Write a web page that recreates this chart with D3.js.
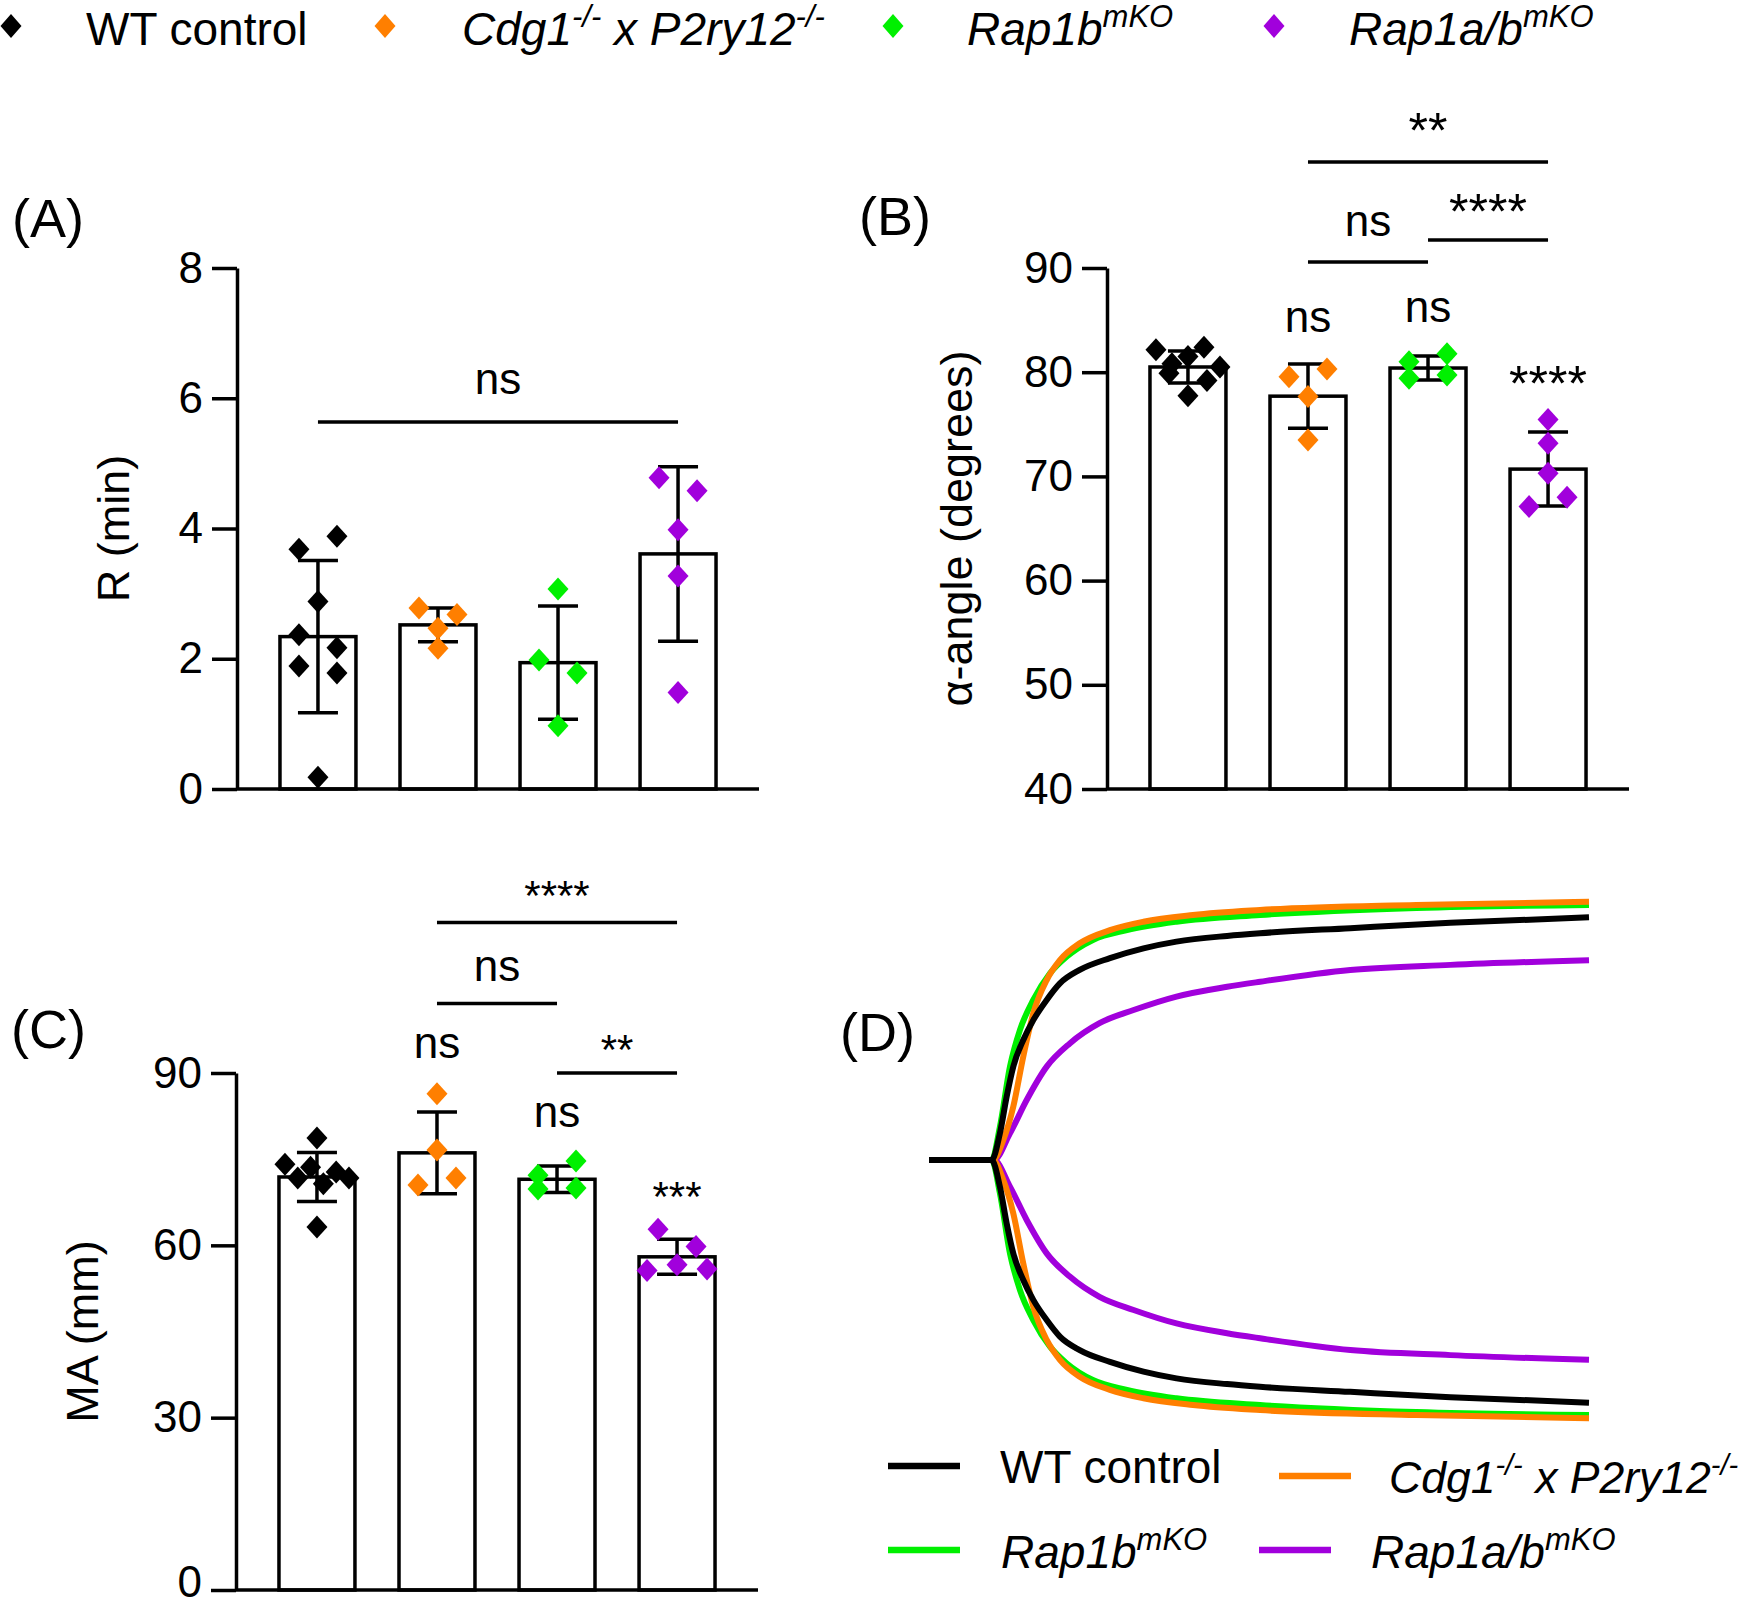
<!DOCTYPE html>
<html>
<head>
<meta charset="utf-8">
<script src="https://cdn.jsdelivr.net/npm/d3@7"></script>
<style>
    body { margin: 0; background: #fff; }
    svg { display: block; }
    text { font-family: "Liberation Sans", Arial, sans-serif; fill: #000; }
</style>
</head>
<body>
<svg id="fig" width="1750" height="1608"></svg>
<script>
    // groups, in plotting order
    const groups = ["WT control", "Cdg1-/- x P2ry12-/-", "Rap1bmKO", "Rap1a/bmKO"];
    const colors = ["#000000", "#ff7f00", "#00f000", "#a100dc"];

    // (A) R (min) - single animals, group means and SD
    const rPoints = [
        [3.68, 3.88, 2.88, 2.37, 2.17, 1.89, 1.78, 0.18],
        [2.78, 2.68, 2.47, 2.16],
        [3.07, 1.98, 1.78, 0.97],
        [4.78, 4.58, 3.98, 3.27, 1.48]
    ];
    const rMean = [2.34, 2.52, 1.94, 3.61];
    const rSD = [1.17, 0.26, 0.87, 1.34];
    const rTicks = [0, 2, 4, 6, 8];

    // (B) alpha-angle (degrees)
    const alphaPoints = [
        [82.16, 80.8, 81.5, 82.4, 80.5, 79.9, 79.2, 77.75],
        [79.56, 80.3, 77.67, 73.5],
        [81.0, 81.76, 79.43, 79.74],
        [75.46, 73.17, 70.3, 67.1, 68.0]
    ];
    const alphaMean = [80.5, 77.7, 80.4, 70.7];
    const alphaSD = [1.53, 3.08, 1.15, 3.55];
    const alphaTicks = [40, 50, 60, 70, 80, 90];

    // (C) MA (mm)
    const maPoints = [
        [78.7, 74.1, 71.7, 73.6, 70.7, 72.75, 71.7, 63.2],
        [86.4, 76.6, 70.5, 71.7],
        [72.2, 74.7, 69.8, 70.0],
        [62.8, 59.8, 55.6, 56.6, 55.9]
    ];
    const maMean = [71.9, 76.1, 71.5, 58.0];
    const maSD = [4.25, 7.1, 2.3, 3.05];
    const maTicks = [0, 30, 60, 90];

    // significance marks: brackets (from group, to group, line level, text level) and per-bar labels
    const rBrackets = [{from: 0, to: 3, at: 5.635, textAt: 6.065, label: "ns"}];
    const rMarks = [];
    const alphaBrackets = [
        {from: 1, to: 2, at: 90.58, textAt: 93.07, label: "ns"},
        {from: 2, to: 3, at: 92.69, textAt: 93.74, label: "****"},
        {from: 1, to: 3, at: 100.17, textAt: 101.5, label: "**"}
    ];
    const alphaMarks = [{group: 1, at: 83.81, label: "ns"}, {group: 2, at: 84.77, label: "ns"}, {group: 3, at: 77.24, label: "****"}];
    const maBrackets = [
        {from: 1, to: 3, at: 116.2, textAt: 118.3, label: "****"},
        {from: 1, to: 2, at: 102.1, textAt: 106.1, label: "ns"},
        {from: 2, to: 3, at: 90.0, textAt: 91.6, label: "**"}
    ];
    const maMarks = [{group: 1, at: 92.6, label: "ns"}, {group: 2, at: 80.6, label: "ns"}, {group: 3, at: 65.9, label: "***"}];

    // (D) TEG tracings: time (min) and amplitude (mm)
    const tegTimeWT = [0, 5.7, 6.45, 7.06, 7.66, 8.57, 9.48, 10.7, 11.9, 13.7, 16.45, 19.5, 22.5, 27.1, 30.1, 38.3, 47.4, 60];
    const tegAmpWT = [0, 0, 8.0, 18.8, 27.7, 35.6, 41.5, 47.5, 52.4, 56.4, 59.9, 62.8, 64.8, 66.5, 67.3, 68.8, 70.4, 72.0];
    const tegTimeCdg = [0, 5.8, 6.75, 7.66, 8.57, 9.48, 10.7, 11.9, 13.7, 16.45, 19.5, 24.0, 30.1, 44.3, 60];
    const tegAmpCdg = [0, 0, 5.9, 15.8, 30.7, 43.5, 53.4, 59.3, 64.3, 68.2, 70.7, 72.7, 74.2, 75.7, 76.6];
    const tegTimeRap1b = [0, 5.7, 6.45, 7.36, 8.27, 9.48, 11.0, 12.5, 14.9, 18.0, 22.5, 30.1, 44.3, 60];
    const tegAmpRap1b = [0, 0, 9.9, 27.7, 38.6, 47.5, 55.4, 60.3, 65.3, 68.2, 70.7, 72.7, 74.8, 75.7];
    const tegTimeRap1ab = [0, 5.9, 7.36, 8.88, 10.7, 12.8, 15.5, 18.6, 22.5, 27.1, 30.1, 38.3, 47.4, 60];
    const tegAmpRap1ab = [0, 0, 7.9, 17.8, 27.7, 34.6, 40.6, 44.5, 48.5, 51.4, 52.9, 56.4, 57.9, 59.3];

    // legend label pieces (italic, superscript)
    const labelParts = [
        [{t: "WT control"}],
        [{t: "Cdg1", i: 1}, {t: "-/-", i: 1, sup: 1}, {t: " x P2ry12", i: 1}, {t: "-/-", i: 1, sup: 1}],
        [{t: "Rap1b", i: 1}, {t: "mKO", i: 1, sup: 1}],
        [{t: "Rap1a/b", i: 1}, {t: "mKO", i: 1, sup: 1}]
    ];

    const svg = d3.select("#fig");
    const LW = 3.5;

    function diamond(w, h) {
        return `M0,${-h}L${w},0L0,${h}L${-w},0Z`;
    }

    function writeLabel(sel, parts, size, supSize) {
        const t = sel.append("text").attr("font-size", size);
        let shift = 0;
        parts.forEach(p => {
            const want = p.sup ? -18 : 0;
            t.append("tspan")
                .attr("dy", want - shift)
                .attr("font-size", p.sup ? supSize : size)
                .attr("font-style", p.i ? "italic" : "normal")
                .text(p.t);
            shift = want;
        });
        return t;
    }

    // rows of near-equal values are spread symmetrically, in array order
    function swarm(vals, y, gap) {
        const order = d3.range(vals.length).sort((a, b) => vals[b] - vals[a]);
        const rows = [];
        order.forEach(i => {
            const row = rows[rows.length - 1];
            if (row && y(vals[i]) - y(vals[row[0]]) < gap) row.push(i);
            else rows.push([i]);
        });
        const dx = new Array(vals.length).fill(0);
        rows.forEach(row => {
            row.sort((a, b) => a - b);
            const n = row.length;
            const step = n === 1 ? 0 : n === 2 ? 38 : n === 3 ? 30 : 64 / (n - 1);
            row.forEach((i, k) => dx[i] = (k - (n - 1) / 2) * step);
        });
        return dx;
    }

    function barPanel(cfg) {
        const g = svg.append("g");
        const x = d3.scaleBand().domain(d3.range(4))
            .range([cfg.left, cfg.left + 522]).paddingInner(0.367).paddingOuter(0.358);
        const y = d3.scaleLinear().domain(cfg.domain).range([cfg.bottom, cfg.top]);
        const cx = i => x(i) + x.bandwidth() / 2;
        const base = y(cfg.domain[0]);

        // bars
        g.selectAll(".bar").data(cfg.mean).join("rect")
            .attr("x", (d, i) => x(i)).attr("width", x.bandwidth())
            .attr("y", d => y(d)).attr("height", d => base - y(d))
            .attr("fill", "#fff").attr("stroke", "#000").attr("stroke-width", LW);

        // error bars (SD)
        cfg.mean.forEach((m, i) => {
            const e = g.append("g").attr("stroke", "#000").attr("stroke-width", LW);
            e.append("line").attr("x1", cx(i)).attr("x2", cx(i))
                .attr("y1", y(m + cfg.sd[i])).attr("y2", y(m - cfg.sd[i]));
            [m + cfg.sd[i], m - cfg.sd[i]].forEach(v => {
                e.append("line").attr("x1", cx(i) - 20).attr("x2", cx(i) + 20)
                    .attr("y1", y(v)).attr("y2", y(v));
            });
        });

        // single points
        cfg.points.forEach((vals, i) => {
            const dx = swarm(vals, y, 20);
            g.selectAll(null).data(vals).join("path")
                .attr("d", diamond(10.5, 11.5))
                .attr("transform", (d, k) => `translate(${cx(i) + dx[k]},${y(d)})`)
                .attr("fill", colors[i]);
        });

        // axes
        const ax = g.append("g").attr("transform", `translate(${cfg.left},0)`)
            .call(d3.axisLeft(y).tickValues(cfg.ticks).tickSize(25).tickPadding(9).tickSizeOuter(0));
        ax.select(".domain").attr("stroke-width", LW);
        ax.selectAll(".tick line").attr("stroke-width", LW);
        ax.selectAll(".tick text").attr("font-size", 44)
            .attr("font-family", "Liberation Sans, Arial, sans-serif").attr("fill", "#000");
        if (cfg.lowLabelDy) {
            ax.selectAll(".tick text").filter(d => d === cfg.domain[0]).attr("dy", cfg.lowLabelDy);
        }
        g.append("line").attr("x1", cfg.left).attr("x2", cfg.left + 522)
            .attr("y1", base).attr("y2", base).attr("stroke", "#000").attr("stroke-width", LW);

        // axis title
        g.append("text").attr("transform", `translate(${cfg.titleX},${(cfg.top + cfg.bottom) / 2}) rotate(-90)`)
            .attr("text-anchor", "middle").attr("font-size", 45).text(cfg.title);

        // panel letter
        g.append("text").attr("x", cfg.letterX).attr("y", cfg.letterY)
            .attr("font-size", 54).text(cfg.letter);

        const markSize = l => l === "ns" ? 44 : cfg.starSize;
        cfg.brackets.forEach(b => {
            g.append("line").attr("x1", cx(b.from)).attr("x2", cx(b.to))
                .attr("y1", y(b.at)).attr("y2", y(b.at))
                .attr("stroke", "#000").attr("stroke-width", LW);
            g.append("text").attr("x", (cx(b.from) + cx(b.to)) / 2).attr("y", y(b.textAt))
                .attr("text-anchor", "middle").attr("font-size", markSize(b.label)).text(b.label);
        });
        cfg.marks.forEach(m => {
            g.append("text").attr("x", cx(m.group)).attr("y", y(m.at))
                .attr("text-anchor", "middle").attr("font-size", markSize(m.label)).text(m.label);
        });
    }

    barPanel({left: 237, top: 268, bottom: 789, domain: [0, 8], ticks: rTicks,
        points: rPoints, mean: rMean, sd: rSD, title: "R (min)", titleX: 129,
        letter: "(A)", letterX: 12, letterY: 237, brackets: rBrackets, marks: rMarks, starSize: 46});
    barPanel({left: 1107, top: 268, bottom: 789, domain: [40, 90], ticks: alphaTicks,
        points: alphaPoints, mean: alphaMean, sd: alphaSD, title: "α-angle (degrees)", titleX: 972,
        letter: "(B)", letterX: 859, letterY: 235, brackets: alphaBrackets, marks: alphaMarks, starSize: 50});
    barPanel({left: 236, top: 1073, bottom: 1590, domain: [0, 90], ticks: maTicks,
        points: maPoints, mean: maMean, sd: maSD, title: "MA (mm)", titleX: 98,
        letter: "(C)", letterX: 11, letterY: 1048, brackets: maBrackets, marks: maMarks, starSize: 42,
        lowLabelDy: "0.14em"});

    // top legend
    const topLeg = [{mx: 11, tx: 86}, {mx: 385, tx: 462}, {mx: 893, tx: 967}, {mx: 1274, tx: 1349}];
    topLeg.forEach((p, i) => {
        svg.append("path").attr("d", diamond(10.5, 12))
            .attr("transform", `translate(${p.mx},26)`).attr("fill", colors[i]);
        writeLabel(svg, labelParts[i], 46, 31).attr("x", p.tx).attr("y", 45);
    });

    // (D) tracings
    const gD = svg.append("g");
    const xT = d3.scaleLinear().domain([0, 60]).range([929, 1589]);
    const yUp = d3.scaleLinear().domain([0, 80]).range([1160, 1160 - 80 * 3.37]);
    const yDn = d3.scaleLinear().domain([0, 80]).range([1160, 1160 + 80 * 3.37]);
    const traces = [
        {t: tegTimeRap1b, a: tegAmpRap1b, c: 2},
        {t: tegTimeCdg, a: tegAmpCdg, c: 1},
        {t: tegTimeWT, a: tegAmpWT, c: 0},
        {t: tegTimeRap1ab, a: tegAmpRap1ab, c: 3}
    ];
    const order = [3, 2, 1, 0];
    order.forEach(k => {
        const tr = traces.find(d => d.c === k);
        const pts = tr.t.map((t, j) => [t, tr.a[j]]);
        [yUp, yDn].forEach(ys => {
            gD.append("path").datum(pts)
                .attr("d", d3.line().x(d => xT(d[0])).y(d => ys(d[1])).curve(d3.curveMonotoneX))
                .attr("fill", "none").attr("stroke", colors[k]).attr("stroke-width", 6)
                .attr("stroke-linejoin", "round");
        });
    });
    gD.append("text").attr("x", 840).attr("y", 1051).attr("font-size", 54).text("(D)");

    const dLeg = [
        {x1: 888, ly: 1466, tx: 1000, ty: 1483},
        {x1: 1279, ly: 1476, tx: 1389, ty: 1493},
        {x1: 888, ly: 1550, tx: 1001, ty: 1568},
        {x1: 1259, ly: 1550, tx: 1371, ty: 1568}
    ];
    dLeg.forEach((p, i) => {
        gD.append("line").attr("x1", p.x1).attr("x2", p.x1 + 72)
            .attr("y1", p.ly).attr("y2", p.ly)
            .attr("stroke", colors[i]).attr("stroke-width", 6.5);
        writeLabel(gD, labelParts[i], i === 1 ? 44.5 : 46, i === 1 ? 29 : 31).attr("x", p.tx).attr("y", p.ty);
    });
</script>
</body>
</html>
